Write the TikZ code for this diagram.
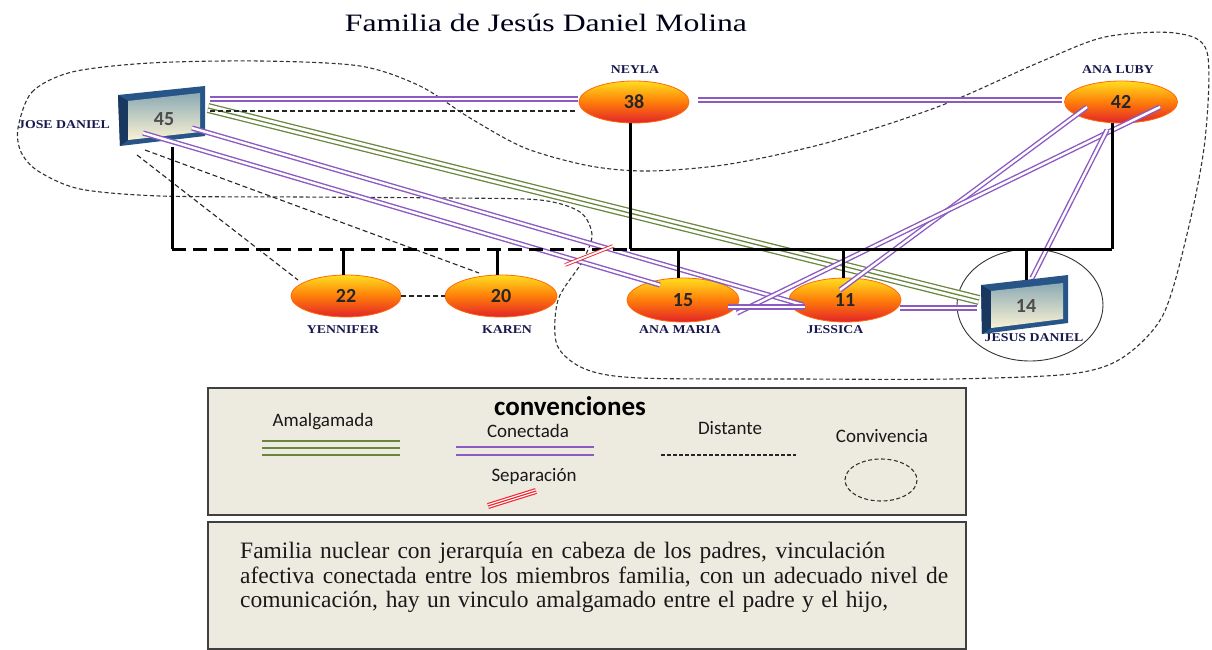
\documentclass[tikz,border=0pt]{standalone}
\usepackage{fontspec}
\setmainfont{Liberation Serif}
\newfontfamily\titlefont[FakeStretch=1.27]{Liberation Serif}
\newfontfamily\lblfont[FakeStretch=1.15]{Liberation Serif}
\newfontfamily\calfont{Carlito}
\usetikzlibrary{shapes.geometric}
\definecolor{cpurple}{RGB}{140,90,195}
\definecolor{cgreen}{RGB}{105,135,60}
\definecolor{cnavy}{RGB}{25,25,80}
\definecolor{cbeige}{RGB}{237,234,224}
\definecolor{cframe}{RGB}{40,85,135}
\definecolor{cframeD}{RGB}{25,55,95}
\definecolor{cinnerT}{RGB}{140,170,180}
\definecolor{cinnerB}{RGB}{250,242,212}
\definecolor{eyel}{RGB}{255,222,30}
\definecolor{eora}{RGB}{255,125,10}
\definecolor{ered}{RGB}{226,35,40}
\definecolor{cred}{RGB}{240,40,50}
\tikzset{
  person/.style={ellipse, minimum width=110pt, minimum height=42pt, inner sep=0pt,
    top color=eyel, bottom color=ered, middle color=eora, draw=eora!85!red, line width=0.8pt,
    font=\calfont\bfseries\fontsize{20}{20}\selectfont, text=black!85},
  boxnum/.style={minimum width=85pt, minimum height=55pt, inner sep=0pt,
    font=\calfont\bfseries\fontsize{20}{20}\selectfont, text=black!70},
  lbl/.style={font=\lblfont\bfseries\fontsize{12}{12}\selectfont, text=cnavy, inner sep=0pt},
  conn/.style={draw=cpurple, line width=1.4pt, double=white, double distance=2.4pt},
  distl/.style={draw=black!85, line width=1.1pt, dash pattern=on 5pt off 3pt},
  gline/.style={draw=black, line width=3pt},
  gdash/.style={draw=black, line width=3pt, dash pattern=on 14pt off 7pt},
  amalA/.style={draw=cgreen, line width=10pt},
  amalB/.style={draw=white, line width=7.4pt},
  amalC/.style={draw=cgreen, line width=1.3pt},
  conv/.style={draw=black!80, line width=1.1pt, dash pattern=on 4pt off 2.5pt},
  sepmark/.style={draw=cred, line width=0.9pt, double=white, double distance=1.8pt},
  legbox/.style={draw=black!75, line width=1.5pt, fill=cbeige},
  legtxt/.style={font=\calfont\fontsize{19}{19}\selectfont, text=black!90, inner sep=0pt},
  bodytxt/.style={anchor=base west, inner sep=0pt, font=\fontsize{23.5}{27}\selectfont, text=black!90},
}
\begin{document}
\begin{tikzpicture}[x=1pt,y=-1pt]
\useasboundingbox (0,0) rectangle (1212,650);
\fill[white] (0,0) rectangle (1212,650);

% title
\node[font=\titlefont\fontsize{25}{25}\selectfont, text=black!90!blue] (title) at (546,23) {Familia de Jesús Daniel Molina};

% convivencia enclosure
\draw[conv] plot[smooth cycle, tension=0.5] coordinates {
 (18,128) (32,92) (72,72) (150,63) (260,61) (360,66) (420,86) (470,118) (525,148)
 (590,166) (650,171) (730,164) (830,142) (940,106) (1040,62) (1105,37) (1175,33)
 (1207,52) (1205,140) (1188,230) (1163,315) (1122,358) (1070,374) (950,379) (800,379)
 (640,378) (585,369) (557,345) (558,300) (582,262) (592,235) (580,212) (540,200)
 (450,198) (300,197) (160,196) (80,189) (38,171) (21,152)};

% circle around Jesus Daniel
\draw[black!80, line width=0.9pt] (1030,305) ellipse [x radius=73, y radius=56];

% Jose Daniel box
\fill[cframe] (118,95) -- (205,86) -- (205,136) -- (120,146) -- cycle;
\fill[cframeD] (118,95) -- (128,101) -- (128,140) -- (120,146) -- cycle;
\shade[top color=cinnerT, bottom color=cinnerB] (128,101) -- (200,93) -- (200,132) -- (128,140) -- cycle;
\node[boxnum] (jd) at (164,119) {45};

% Jesus Daniel box
\fill[cframe] (981,285) -- (1068,275) -- (1068,323) -- (982,334) -- cycle;
\fill[cframeD] (981,285) -- (991,291) -- (991,328) -- (982,334) -- cycle;
\shade[top color=cinnerT, bottom color=cinnerB] (991,291) -- (1063,283) -- (1063,319) -- (991,328) -- cycle;
\node[boxnum] (jdan) at (1026,306) {14};

% persons
\node[person] (ney) at (634,102) {38};
\node[person, minimum width=113pt] (alu) at (1121,102) {42};
\node[person] (yen) at (346,296) {22};
\node[person, minimum width=112pt] (kar) at (501,296) {20};
\node[person, minimum width=112pt, minimum height=44pt] (ama) at (683,300) {15};
\node[person, minimum width=112pt, minimum height=44pt] (jes) at (845,300) {11};

% amalgamada
\draw[amalA] ([shift={(44,-11)}]jd.center) -- ([shift={(-47,-6)}]jdan.center);
\draw[amalB] ([shift={(44,-11)}]jd.center) -- ([shift={(-47,-6)}]jdan.center);
\draw[amalC] ([shift={(44,-11)}]jd.center) -- ([shift={(-47,-6)}]jdan.center);

% conectada
\draw[conn] ([shift={(46,-20)}]jd.center) -- ([shift={(-56,-3)}]ney.center);
\draw[conn] ([shift={(64,-2)}]ney.center) -- ([shift={(-59,-2)}]alu.center);
\draw[conn] ([shift={(-21,14)}]jd.center) -- ([shift={(-23,-15)}]ama.center);
\draw[conn] ([shift={(28,9)}]jd.center) -- ([shift={(-42,5)}]jes.center);
\draw[conn] ([shift={(-34,5)}]alu.center) -- ([shift={(-5,-10)}]jes.center);
\draw[conn] ([shift={(39,5)}]alu.center) -- ([shift={(54,13)}]ama.center);
\draw[conn] ([shift={(-14,28)}]alu.center) -- ([shift={(6,-28)}]jdan.center);
\draw[conn] ([shift={(45,7)}]ama.center) -- ([shift={(-40,7)}]jes.center);
\draw[conn] ([shift={(55,8)}]jes.center) -- ([shift={(-49,2)}]jdan.center);

% distante
\draw[distl] ([shift={(46,-8)}]jd.center) -- ([shift={(-58,9)}]ney.center);
\draw[distl] ([shift={(-27,36)}]jd.center) -- ([shift={(-48,-16)}]yen.center);
\draw[distl] ([shift={(-19,31)}]jd.center) -- ([shift={(-22,-23)}]kar.center);
\draw[distl] (yen.east) -- (kar.west);

% genogram lines
\coordinate (hj) at (172,249);
\coordinate (hn) at (630,249);
\coordinate (ha) at (1112,249);
\coordinate (jdtop) at ([shift={(0,-26)}]jdan.center);
\draw[gline] (jd.south -| hj) -- (hj);
\draw[gdash] (hj) -- (hn);
\draw[gline] (ney.south -| hn) -- (hn);
\draw[gline] (hn) -- (ha);
\draw[gline] (alu.south -| ha) -- (ha);
\draw[gline] ([xshift=-3pt]yen.north) -- ([xshift=-3pt]yen.north |- hj);
\draw[gline] ([xshift=-4pt]kar.north) -- ([xshift=-4pt]kar.north |- hj);
\draw[gline] ([xshift=-5pt]ama.north) -- ([xshift=-5pt]ama.north |- hj);
\draw[gline] ([xshift=-2pt]jes.north) -- ([xshift=-2pt]jes.north |- hj);
\draw[gline] (jdtop) -- (jdtop |- hj);

% separation mark
\draw[sepmark] (565,265) -- (613,246);

% name labels
\node[lbl] (ljd) at (64,125) {JOSE DANIEL};
\node[lbl] (lney) at (635,70) {NEYLA};
\node[lbl] (lalu) at (1118,70) {ANA LUBY};
\node[lbl] (lyen) at (343,330) {YENNIFER};
\node[lbl] (lkar) at (507,330) {KAREN};
\node[lbl] (lama) at (680,330) {ANA MARIA};
\node[lbl] (ljes) at (835,330) {JESSICA};
\node[lbl] (ljdan) at (1034,338) {JESUS DANIEL};

% legend box
\draw[legbox] (208,388) rectangle (966,515);
\node[font=\calfont\bfseries\fontsize{27}{27}\selectfont, inner sep=0pt] (lconv) at (570,406) {convenciones};
\node[legtxt] (lam) at (323,422) {Amalgamada};
\node[legtxt] (lcon) at (528,431) {Conectada};
\node[legtxt] (ldis) at (730,428) {Distante};
\node[legtxt] (lcv) at (882,436) {Convivencia};
\node[legtxt] (lsep) at (534,476) {Separación};
\draw[cgreen, line width=1.8pt] (262,441) -- (400,441);
\draw[cgreen, line width=1.8pt] (262,448) -- (400,448);
\draw[cgreen, line width=1.8pt] (262,455) -- (400,455);
\draw[cpurple, line width=1.8pt] (456,447) -- (594,447);
\draw[cpurple, line width=1.8pt] (456,455) -- (594,455);
\draw[black!85, line width=1.2pt, dash pattern=on 4pt off 2pt] (661,455) -- (796,455);
\draw[conv] (881,480) ellipse [x radius=36, y radius=21];
\draw[draw=cred, line width=6pt] (488,506) -- (536,491);
\draw[draw=white, line width=3.6pt] (488,506) -- (536,491);
\draw[draw=cred, line width=1.2pt] (488,506) -- (536,491);

% text box
\draw[legbox] (208,522) rectangle (966,649);
\node[bodytxt] (t1) at (240,558) {\makebox[645pt][s]{Familia nuclear con jerarquía en cabeza de los padres, vinculación}};
\node[bodytxt] (t2) at (240,583) {\makebox[708pt][s]{afectiva conectada entre los miembros familia, con un adecuado nivel de}};
\node[bodytxt] (t3) at (240,607) {\makebox[648pt][s]{comunicación, hay un vinculo amalgamado entre el padre y el hijo,}};
\end{tikzpicture}
\end{document}
